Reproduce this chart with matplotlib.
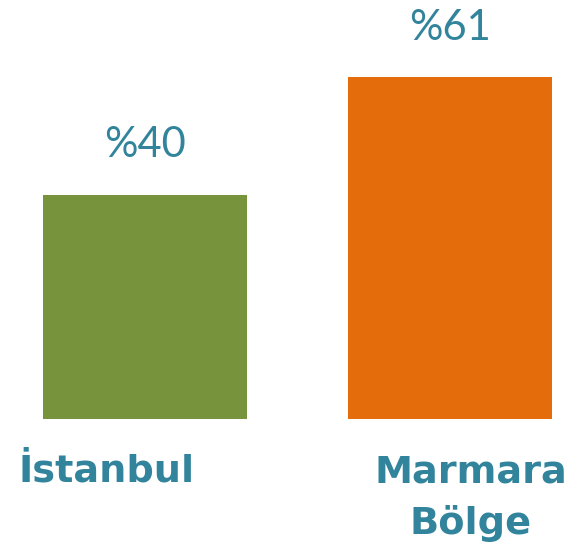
import numpy as np
from matplotlib import pyplot as plt

# data
categories = ["İstanbul", "Marmara\nBölge"]
values = [40, 61]
value_labels = ["%40", "%61"]
bar_colors = ["#77933C", "#E46C0A"]

TEAL = "#31849B"

fig = plt.figure(figsize=(5.78, 5.48), dpi=100)
ax = fig.add_axes([0, 0, 1, 1])

x = np.arange(len(values))
bars = ax.bar(x, values, width=0.669, color=bar_colors)

# value labels above bars
for b, lab in zip(bars, value_labels):
    ax.annotate(lab, (b.get_x() + b.get_width() / 2, b.get_height()),
                xytext=(0, 27), textcoords="offset points",
                ha="center", va="baseline", fontsize=30,
                family="Lato", color=TEAL)

# category labels below (slightly offset from bar centers, as in the original)
# baseline alignment on multi-line text uses the last line
label_x = [-0.125, 1.069]
label_y = [-11.25, -20.6]
for lx, ly, cat in zip(label_x, label_y, categories):
    ax.text(lx, ly, cat, ha="center", va="baseline", multialignment="center",
            fontsize=27.5, fontweight="bold", color=TEAL, linespacing=1.5,
            family="DejaVu Sans")

ax.set_xlim(-0.475, 1.42)
ax.set_ylim(-23.04, 74.8)
ax.axis("off")

plt.savefig("out.png", dpi=100)
